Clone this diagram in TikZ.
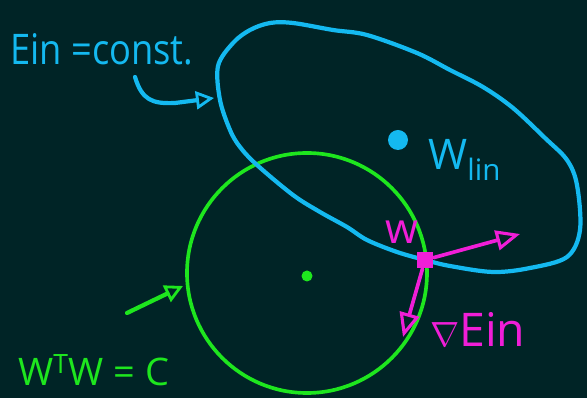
\documentclass[tikz,border=0pt]{standalone}
\usepackage{fontspec}
\usepackage{graphicx}
\setmainfont{Open Sans}
\usetikzlibrary{arrows.meta}
\definecolor{boardbg}{RGB}{0,36,38}
\definecolor{einblue}{RGB}{20,185,240}
\definecolor{circgreen}{RGB}{30,230,30}
\definecolor{gradpink}{RGB}{240,30,215}

\begin{document}
\begin{tikzpicture}[
  x=0.025cm,y=-0.025cm,
  line cap=round,line join=round,
  handtext/.style={inner sep=0pt,anchor=base west,font=\fontsize{30}{30}\selectfont},
  bluearr/.style={-{Triangle[open,length=4.5mm,width=4.5mm,line width=2pt]},einblue,line width=3pt},
  greenarr/.style={-{Triangle[open,length=4.5mm,width=4.5mm,line width=2pt]},circgreen,line width=3pt},
  pinkarr/.style={-{Triangle[open,length=6mm,width=5mm,line width=2.2pt]},gradpink,line width=2.6pt}
]
\fill[boardbg] (0,0) rectangle (587,398);
\useasboundingbox (0,0) rectangle (587,398);

% constraint circle
\draw[circgreen,line width=2.6pt] (307,273) circle[radius=120];
\fill[circgreen] (307,276) circle[radius=5.5];

% level curve of Ein
\draw[einblue,line width=3pt] plot[smooth cycle,tension=0.55] coordinates {
  (218,66) (233,43) (250,30) (270,23) (293,23) (333,30) (367,35) (417,53)
  (450,70) (483,87) (513,108) (545,138) (567,160) (577,185) (580,230)
  (567,257) (530,268) (493,272) (450,266) (425,260) (397,252) (367,240)
  (347,227) (320,212) (293,195) (257,165) (240,147) (230,130) (220,100)};
\fill[einblue] (398,140) circle[radius=10];

% labels
\node[handtext,einblue] (einlbl) at (10,65) {\scalebox{0.86}[1]{Ein =const.}};
\node[handtext,einblue] (wlin) at (428,170) {W\textsubscript{lin}};
\node[handtext,circgreen,font=\fontsize{27}{27}\selectfont] (wtw) at (18,386) {W\textsuperscript{T}W = C};
\node[handtext,gradpink,font=\fontsize{33}{33}\selectfont] (gradlbl) at (430,347) {$\nabla$Ein};
\node[handtext,gradpink,anchor=center] (wlbl) at (402,232) {w};

% point w and its arrows
\node[rectangle,fill=gradpink,minimum size=0.42cm,inner sep=0pt] (w) at (425,260) {};
\coordinate (normtip) at (520,234);
\coordinate (gradtip) at (403,337);
\draw[pinkarr] (w) -- (normtip);
\draw[pinkarr] (w) -- (gradtip);

% pointer arrows
\coordinate (einstart) at (135,77);
\coordinate (einend) at (214,98);
\draw[bluearr] (einstart) .. controls (142,100) and (152,104) .. (175,103) -- (einend);
\coordinate (wtwstart) at (127,313);
\coordinate (wtwend) at (183,286);
\draw[greenarr] (wtwstart) -- (wtwend);
\end{tikzpicture}
\end{document}
